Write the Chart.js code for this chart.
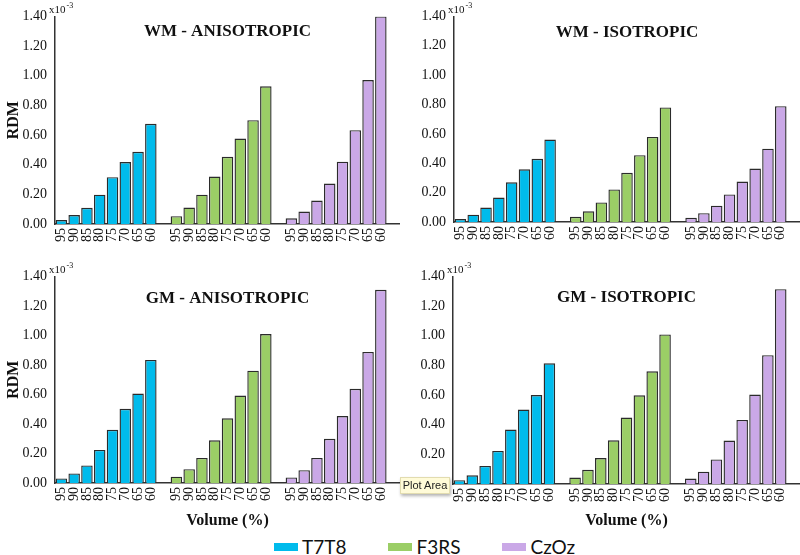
<!DOCTYPE html>
<html>
<head>
<meta charset="utf-8">
<script src="https://cdn.jsdelivr.net/npm/chart.js@4.4.0/dist/chart.umd.min.js"></script>
<style>
  html, body { margin: 0; padding: 0; background: #fff; }
  body { width: 800px; height: 555px; position: relative; overflow: hidden; }
  .panel { position: absolute; }
  #legend {
    position: absolute; left: 274px; top: 537px; display: flex; gap: 42px;
    font-family: Lato, sans-serif; font-size: 19px; line-height: 20px; color: #111;
  }
  #legend .item { display: flex; align-items: center; }
  #legend .box { width: 24px; height: 8px; margin-right: 4px; }
  #plotArea {
    position: absolute; left: 400px; top: 477px; width: 48px; height: 15px;
    background: #fffbd8; border: 1px solid #e2dcb0; box-shadow: 1px 2px 3px rgba(0,0,0,0.3);
    font: 11px "Liberation Sans", sans-serif; color: #222; line-height: 15px; text-align: center;
  }
</style>
</head>
<body>
<div class="panel" style="left:0;top:0;width:400px;height:260px"><canvas id="wmAniso"></canvas></div>
<div class="panel" style="left:400px;top:0;width:400px;height:260px"><canvas id="wmIso"></canvas></div>
<div class="panel" style="left:0;top:260px;width:400px;height:274px"><canvas id="gmAniso"></canvas></div>
<div class="panel" style="left:400px;top:260px;width:400px;height:274px"><canvas id="gmIso"></canvas></div>
<div id="legend"></div>
<div id="plotArea">Plot Area</div>
<script>
'use strict'

/* global Chart */

// volume levels (%) on the x axis, repeated for each electrode pair
const volumes = ['95', '90', '85', '80', '75', '70', '65', '60']
const seriesNames = ['T7T8', 'F3RS', 'CzOz']
const seriesColors = ['#00bbec', '#9bce66', '#caa8e7']

// RDM values, in units of 1e-3
const wmAnisoT7T8 = [0.027, 0.060, 0.109, 0.198, 0.316, 0.418, 0.487, 0.676]
const wmAnisoF3RS = [0.053, 0.111, 0.198, 0.320, 0.453, 0.576, 0.700, 0.929]
const wmAnisoCzOz = [0.038, 0.084, 0.158, 0.273, 0.420, 0.633, 0.971, 1.400]

const wmIsoT7T8 = [0.020, 0.050, 0.098, 0.166, 0.270, 0.359, 0.430, 0.561]
const wmIsoF3RS = [0.035, 0.073, 0.133, 0.222, 0.335, 0.455, 0.579, 0.780]
const wmIsoCzOz = [0.029, 0.060, 0.111, 0.188, 0.275, 0.364, 0.499, 0.789]

const gmAnisoT7T8 = [0.031, 0.065, 0.119, 0.224, 0.360, 0.503, 0.606, 0.834]
const gmAnisoF3RS = [0.043, 0.094, 0.170, 0.289, 0.438, 0.593, 0.761, 1.009]
const gmAnisoCzOz = [0.038, 0.087, 0.170, 0.300, 0.454, 0.638, 0.888, 1.309]

const gmIsoT7T8 = [0.026, 0.059, 0.122, 0.223, 0.367, 0.502, 0.600, 0.814]
const gmIsoF3RS = [0.044, 0.096, 0.175, 0.295, 0.448, 0.598, 0.760, 1.009]
const gmIsoCzOz = [0.037, 0.083, 0.166, 0.293, 0.432, 0.603, 0.869, 1.314]

const yTicks = [0, 0.2, 0.4, 0.6, 0.8, 1.0, 1.2, 1.4]

const serif = '"Liberation Serif", "Times New Roman", serif'
const ink = '#111'

// labels: each group of volumes followed by an empty slot
const labels = []
seriesNames.forEach(() => {
  volumes.forEach((v) => labels.push(v))
  labels.push('')
})

function buildDatasets (groups) {
  return groups.map((values, g) => {
    const data = labels.map(() => null)
    values.forEach((v, i) => { data[g * (volumes.length + 1) + i] = v })
    return {
      label: seriesNames[g],
      data: data,
      backgroundColor: seriesColors[g],
      borderColor: '#2b2b2b',
      // no outline for the empty slots
      borderWidth: (ctx) => (ctx.raw == null ? 0 : 1.4),
      grouped: false,
      barPercentage: 0.9,
      categoryPercentage: 1
    }
  })
}

// draws the panel title and the x10^-3 multiplier
const panelText = {
  id: 'panelText',
  afterDraw (chart, args, opts) {
    const { ctx, chartArea } = chart
    ctx.save()
    ctx.fillStyle = ink
    ctx.font = 'bold 17px ' + serif
    ctx.textAlign = 'center'
    ctx.textBaseline = 'middle'
    ctx.fillText(opts.title, (chartArea.left + chartArea.right) / 2, opts.titleY)

    ctx.textAlign = 'left'
    ctx.textBaseline = 'alphabetic'
    ctx.font = '11px ' + serif
    const x = chartArea.left - 6
    const y = chartArea.top - 3
    ctx.fillText('x10', x, y)
    const w = ctx.measureText('x10').width
    ctx.font = '8px ' + serif
    ctx.fillText('-3', x + w + 1, y - 5)
    ctx.restore()
  }
}

function makePanel (id, title, groups, p) {
  return new Chart(document.getElementById(id), {
    type: 'bar',
    data: { labels: labels, datasets: buildDatasets(groups) },
    plugins: [panelText],
    options: {
      responsive: true,
      maintainAspectRatio: false,
      animation: false,
      layout: { padding: { top: p.padTop, left: 0, right: 0, bottom: 0 } },
      plugins: {
        legend: { display: false },
        tooltip: { enabled: false },
        panelText: { title: title, titleY: p.titleY }
      },
      scales: {
        x: {
          grid: { display: false, drawTicks: false },
          border: { color: '#333', width: 1.5 },
          ticks: {
            autoSkip: false,
            minRotation: 90,
            maxRotation: 90,
            padding: 4,
            color: ink,
            font: { family: serif, size: 14 }
          },
          title: {
            display: p.xTitle,
            text: 'Volume (%)',
            color: ink,
            font: { family: serif, size: 16, weight: 'bold' },
            padding: { top: 0, bottom: 4 }
          },
          afterFit (scale) {
            scale.height = p.xHeight
            // let the axis run to the right edge of the panel
            scale.paddingLeft = 0
            scale.paddingRight = 0
          }
        },
        y: {
          min: 0,
          max: 1.4,
          afterBuildTicks (scale) { scale.ticks = yTicks.map((v) => ({ value: v })) },
          grid: { display: false, drawTicks: false },
          border: { color: '#333', width: 1.5 },
          ticks: {
            padding: 8,
            color: ink,
            font: { family: serif, size: 14 },
            callback: (v) => Number(v).toFixed(2)
          },
          title: {
            display: p.yTitle,
            text: 'RDM',
            color: ink,
            font: { family: serif, size: 16, weight: 'bold' },
            padding: { top: 4, bottom: 0 }
          },
          afterFit (scale) { scale.width = p.yWidth }
        }
      }
    }
  })
}

makePanel('wmAniso', 'WM - ANISOTROPIC', [wmAnisoT7T8, wmAnisoF3RS, wmAnisoCzOz],
  { padTop: 15, titleY: 32, xHeight: 36, yWidth: 55, yTitle: true, xTitle: false })
makePanel('wmIso', 'WM - ISOTROPIC', [wmIsoT7T8, wmIsoF3RS, wmIsoCzOz],
  { padTop: 12, titleY: 33, xHeight: 38, yWidth: 54, yTitle: false, xTitle: false })
makePanel('gmAniso', 'GM - ANISOTROPIC', [gmAnisoT7T8, gmAnisoF3RS, gmAnisoCzOz],
  { padTop: 15, titleY: 39, xHeight: 51, yWidth: 55, yTitle: true, xTitle: true })
makePanel('gmIso', 'GM - ISOTROPIC', [gmIsoT7T8, gmIsoF3RS, gmIsoCzOz],
  { padTop: 9, titleY: 38, xHeight: 50, yWidth: 53, yTitle: false, xTitle: true })

// legend
const legend = document.getElementById('legend')
seriesNames.forEach((name, i) => {
  const item = document.createElement('div')
  item.className = 'item'
  const box = document.createElement('span')
  box.className = 'box'
  box.style.background = seriesColors[i]
  const text = document.createElement('span')
  text.textContent = name
  item.appendChild(box)
  item.appendChild(text)
  legend.appendChild(item)
})
</script>
</body>
</html>
